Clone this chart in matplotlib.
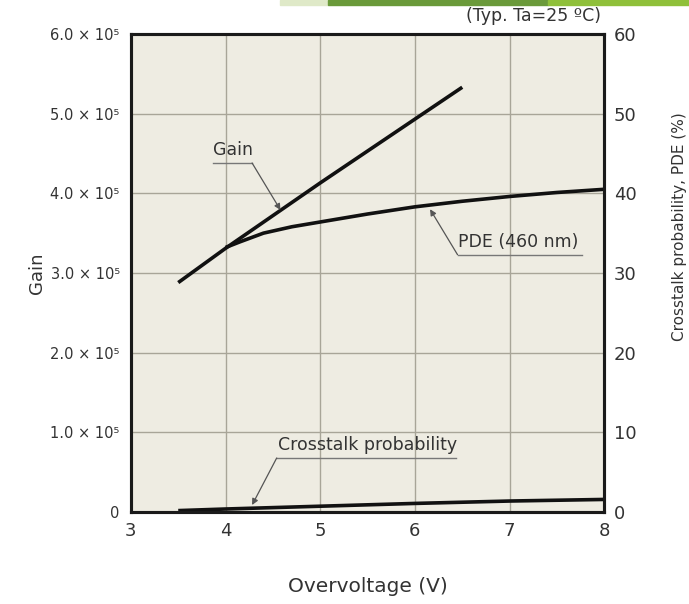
import matplotlib
matplotlib.use("Agg")
import matplotlib.pyplot as plt
from matplotlib.patches import Rectangle

# Gain vs overvoltage (left axis)
gain_v = [3.5, 4.0, 5.0, 6.0, 6.5]
gain = [2.88e5, 3.31e5, 4.13e5, 4.93e5, 5.33e5]

# PDE at 460 nm (right axis, %)
pde_v = [4.0, 4.15, 4.4, 4.7, 5.0, 5.5, 6.0, 6.5, 7.0, 7.5, 8.0]
pde = [33.2, 33.9, 35.0, 35.8, 36.4, 37.4, 38.3, 39.0, 39.6, 40.1, 40.5]

# Crosstalk probability (right axis, %)
ct_v = [3.5, 4.0, 5.0, 6.0, 7.0, 8.0]
ct = [0.2, 0.4, 0.75, 1.1, 1.4, 1.6]

x_ticks = [3, 4, 5, 6, 7, 8]
gain_ticks = [0, 1e5, 2e5, 3e5, 4e5, 5e5, 6e5]
gain_tick_labels = ['0', '1.0 × 10⁵', '2.0 × 10⁵', '3.0 × 10⁵',
                    '4.0 × 10⁵', '5.0 × 10⁵', '6.0 × 10⁵']
pct_ticks = [0, 10, 20, 30, 40, 50, 60]

txt = '#333333'
plt.rcParams['font.family'] = ['DejaVu Sans']

fig = plt.figure(figsize=(6.89, 6.04), dpi=100)
ax = fig.add_axes([0.190, 0.152, 0.687, 0.792])
ax.set_facecolor('#eeece2')
ax2 = ax.twinx()

ax.set_xlim(3, 8)
ax.set_ylim(0, 6e5)
ax2.set_ylim(0, 60)
ax.set_xticks(x_ticks)
ax.set_yticks(gain_ticks)
ax.set_yticklabels(gain_tick_labels)
ax2.set_yticks(pct_ticks)
ax.grid(True, color='#a8a598', linewidth=1.0)
ax.tick_params(axis='both', length=0, colors=txt)
ax.tick_params(axis='x', labelsize=13, pad=7)
ax.tick_params(axis='y', labelsize=10.5, pad=8)
ax2.tick_params(axis='y', length=0, labelsize=13, pad=7, colors=txt)
for a in (ax, ax2):
    for s in a.spines.values():
        s.set_linewidth(2.2)
        s.set_color('#1a1a1a')

ax.plot(gain_v, gain, color='#111111', lw=2.6, solid_capstyle='butt')
ax2.plot(pde_v, pde, color='#111111', lw=2.6, solid_capstyle='butt')
ax2.plot(ct_v, ct, color='#111111', lw=2.6, solid_capstyle='butt')

arrow = dict(arrowstyle='-|>', color='#555555', lw=0.9,
             mutation_scale=9, shrinkA=0, shrinkB=0)
lead = dict(color='#777777', lw=1.0)
ann_fs = 12.5

# Gain label
ax2.plot([3.87, 4.28], [43.8, 43.8], **lead)
ax2.annotate('', xy=(4.58, 37.9), xytext=(4.28, 43.8), arrowprops=arrow)
ax2.text(3.87, 44.3, 'Gain', fontsize=ann_fs, color=txt, ha='left', va='bottom')

# PDE label
ax2.plot([6.45, 7.77], [32.3, 32.3], **lead)
ax2.annotate('', xy=(6.16, 38.0), xytext=(6.45, 32.3), arrowprops=arrow)
ax2.text(6.45, 32.8, 'PDE (460 nm)', fontsize=ann_fs, color=txt, ha='left', va='bottom')

# Crosstalk label
ax2.plot([4.54, 6.43], [6.8, 6.8], **lead)
ax2.annotate('', xy=(4.28, 0.9), xytext=(4.54, 6.8), arrowprops=arrow)
ax2.text(4.55, 7.3, 'Crosstalk probability', fontsize=ann_fs, color=txt,
         ha='left', va='bottom')

ax.set_ylabel('Gain', fontsize=13, color=txt)
ax.yaxis.set_label_coords(-0.18, 0.5)
ax.set_xlabel('Overvoltage (V)', fontsize=14.5, color=txt, labelpad=27)
fig.text(0.986, 0.625, 'Crosstalk probability, PDE (%)', rotation=90,
         fontsize=11, color=txt, ha='center', va='center')
fig.text(0.872, 0.974, '(Typ. Ta=25 ºC)', fontsize=12.5, color=txt,
         ha='right', va='center')

# slide decoration strip at the top
fig.patches.append(Rectangle((0.406, 0.992), 0.07, 0.008, transform=fig.transFigure,
                             color='#dfe9c8', zorder=0))
fig.patches.append(Rectangle((0.476, 0.992), 0.32, 0.008, transform=fig.transFigure,
                             color='#6a9a3a', zorder=0))
fig.patches.append(Rectangle((0.796, 0.992), 0.204, 0.008, transform=fig.transFigure,
                             color='#8fc03a', zorder=0))

fig.savefig('out.png', dpi=100)
